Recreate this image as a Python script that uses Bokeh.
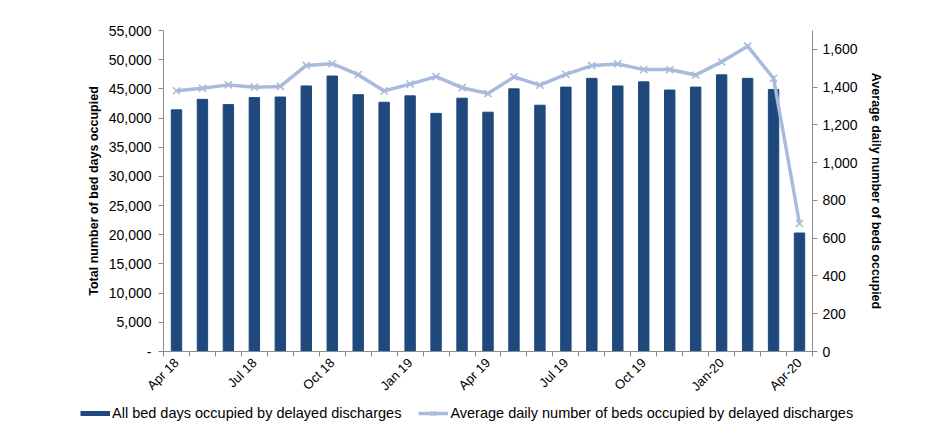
import math
from bokeh.plotting import figure
from bokeh.layouts import column
from bokeh.models import (ColumnDataSource, Range1d, LinearAxis, FixedTicker,
                          NumeralTickFormatter, Legend, LegendItem)
from bokeh.embed import file_html
from bokeh.resources import INLINE

# ---------------- data ----------------
months = ["Apr 18", "May 18", "Jun 18", "Jul 18", "Aug 18", "Sep 18", "Oct 18",
          "Nov 18", "Dec 18", "Jan 19", "Feb 19", "Mar 19", "Apr 19", "May 19",
          "Jun 19", "Jul 19", "Aug 19", "Sep 19", "Oct 19", "Nov 19", "Dec 19",
          "Jan-20", "Feb-20", "Mar-20", "Apr-20"]
bed_days = [41400, 43200, 42300, 43500, 43600, 45500, 47200, 44000, 42700,
            43800, 40800, 43400, 41000, 45000, 42200, 45300, 46800, 45500,
            46200, 44800, 45300, 47400, 46800, 44900, 20300]
avg_daily = [1381, 1394, 1412, 1400, 1404, 1515, 1524, 1466, 1380, 1416, 1456,
             1397, 1366, 1454, 1411, 1468, 1514, 1523, 1493, 1493, 1464, 1534,
             1617, 1447, 678]
shown_labels = ["Apr 18", "Jul 18", "Oct 18", "Jan 19", "Apr 19", "Jul 19",
                "Oct 19", "Jan-20", "Apr-20"]
left_ticks = [0, 5000, 10000, 15000, 20000, 25000, 30000, 35000, 40000,
              45000, 50000, 55000]
right_ticks = [0, 200, 400, 600, 800, 1000, 1200, 1400, 1600]
bar_label = "All bed days occupied by delayed discharges"
line_label = "Average daily number of beds occupied by delayed discharges"

BAR = "#1F497D"
LINE = "#A9BBDB"
AXIS = "#8C8C8C"
FONT = "Liberation Sans"

xs = list(range(len(months)))
src = ColumnDataSource(dict(x=xs, month=months, bed=bed_days, avg=avg_daily))

p = figure(width=920, height=402, output_backend="svg", toolbar_location=None,
           x_range=Range1d(-0.5, len(months) - 0.5), y_range=Range1d(0, 55000),
           min_border_left=163, min_border_right=108, min_border_top=30,
           min_border_bottom=42)
p.extra_y_ranges = {"avg": Range1d(0, 1700)}
p.outline_line_color = None
p.xgrid.visible = False
p.ygrid.visible = False

bars = p.vbar(x="x", top="bed", width=0.4, source=src, fill_color=BAR,
              line_color=BAR)
ln = p.line(x="x", y="avg", source=src, y_range_name="avg", line_width=3.5,
            line_color=LINE, line_join="round")
mk = p.scatter(x="x", y="avg", source=src, y_range_name="avg", marker="x",
               size=10, line_width=1.6, line_color=LINE)

# x axis
xa = p.xaxis[0]
label_pos = [months.index(m) for m in shown_labels]
xa.ticker = FixedTicker(ticks=label_pos,
                        minor_ticks=[i - 0.5 for i in range(len(months) + 1)])
xa.major_label_overrides = {i: months[i] for i in label_pos}
xa.major_label_orientation = math.pi / 4
xa.major_tick_out = 0
xa.major_tick_in = 0
xa.minor_tick_out = 5
xa.minor_tick_in = 0
xa.minor_tick_line_color = AXIS
xa.axis_line_color = AXIS
xa.major_label_text_font = FONT
xa.major_label_text_font_size = "13px"
xa.major_label_text_color = "black"
xa.major_label_standoff = 4

# left axis
ya = p.yaxis[0]
ya.ticker = FixedTicker(ticks=left_ticks)
ya.formatter = NumeralTickFormatter(format="0,0")
ya.major_label_overrides = {0: "-"}
ya.axis_label = "Total number of bed days occupied"
ya.axis_label_text_font = FONT
ya.axis_label_text_font_style = "bold"
ya.axis_label_text_font_size = "12.5px"
ya.axis_label_text_color = "black"
ya.axis_label_standoff = 5
ya.major_label_text_font = FONT
ya.major_label_text_font_size = "14px"
ya.major_label_text_color = "black"
ya.major_tick_out = 5
ya.major_tick_in = 0
ya.minor_tick_line_color = None
ya.major_tick_line_color = AXIS
ya.axis_line_color = AXIS
ya.major_label_standoff = 7

# right axis
ra = LinearAxis(y_range_name="avg", ticker=FixedTicker(ticks=right_ticks),
                formatter=NumeralTickFormatter(format="0,0"))
ra.axis_label = "Average daily number of beds occupied"
ra.axis_label_text_font = FONT
ra.axis_label_text_font_style = "bold"
ra.axis_label_text_font_size = "12.5px"
ra.axis_label_text_color = "black"
ra.axis_label_standoff = 8
ra.major_label_text_font = FONT
ra.major_label_text_font_size = "14px"
ra.major_label_text_color = "black"
ra.major_tick_out = 5
ra.major_tick_in = 0
ra.minor_tick_line_color = None
ra.major_tick_line_color = AXIS
ra.axis_line_color = AXIS
ra.major_label_standoff = 5
p.add_layout(ra, "right")

# legend strip below the chart
lg = figure(width=920, height=30, output_backend="svg", toolbar_location=None,
            x_range=Range1d(0, 1), y_range=Range1d(0, 1),
            x_axis_type=None, y_axis_type=None, min_border=0)
lg.outline_line_color = None
lg.xgrid.visible = False
lg.ygrid.visible = False
for fig in (p, lg):
    try:
        fig.frame_align = False
    except Exception:
        pass
nan = float("nan")
sw_bar = lg.line(x=[nan], y=[nan], line_width=5, line_color=BAR)
sw_line = lg.line(x=[nan], y=[nan], line_width=3.5, line_color=LINE)
sw_mk = lg.scatter(x=[nan], y=[nan], marker="x", size=10, line_width=1.6,
                   line_color=LINE)
legend = Legend(items=[LegendItem(label=bar_label, renderers=[sw_bar]),
                       LegendItem(label=line_label, renderers=[sw_line, sw_mk])],
                orientation="horizontal", location=(80, 11),
                border_line_color=None, background_fill_alpha=0,
                padding=0, margin=0, glyph_width=30, glyph_height=16,
                label_standoff=2, spacing=17,
                label_text_font=FONT, label_text_font_size="14.5px",
                label_text_color="black")
lg.add_layout(legend, "center")

layout = column(p, lg, spacing=0)
open("out.html", "w").write(file_html(layout, INLINE))
